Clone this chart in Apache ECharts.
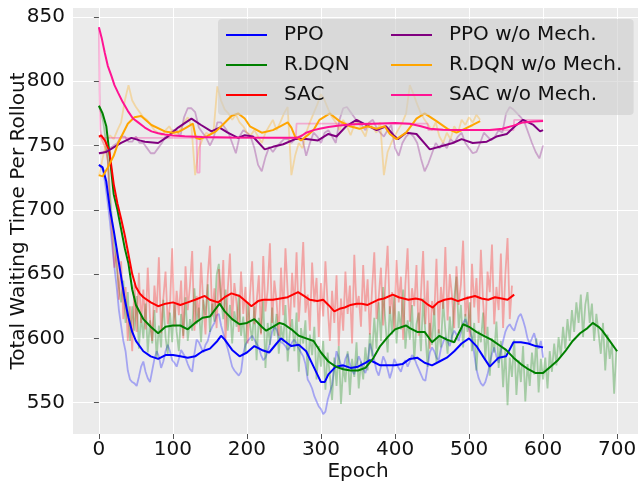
<!DOCTYPE html>
<html>
<head>
<meta charset="utf-8">
<script src="https://cdn.jsdelivr.net/npm/echarts@6/dist/echarts.min.js"></script>
<style>
  html, body { margin: 0; padding: 0; background: #fff; }
  #chart { width: 638px; height: 483px; }
</style>
</head>
<body>
<div id="chart"></div>
<script>
// Epoch step of the raw logs: full methods are logged every 3 epochs,
// the "w/o Mech." ablations every 5 epochs
const RAW_STEP = 3;
const NO_MECH_STEP = 5;

// Raw per-rollout waiting time (one value every RAW_STEP epochs)
const ppoRaw = [
  735,733,730,718,705,690,672,655,640,622,610,598,590,575,568,566,565,563,570,578,
  582,574,569,566,575,584,590,586,577,582,590,595,590,583,581,578,584,591,588,585,
  580,576,574,588,599,597,593,589,595,598,605,609,612,618,619,610,604,598,592,585,
  578,575,573,571,574,588,595,598,600,602,599,596,593,587,583,585,590,596,605,609,
  607,601,597,596,594,591,593,597,599,596,592,589,586,580,568,565,561,555,551,547,
  545,541,543,552,558,564,578,590,585,579,576,584,588,580,575,572,580,586,582,576,
  573,580,596,590,583,575,571,578,586,582,576,569,575,584,580,577,574,580,583,578,
  582,587,585,580,576,572,568,567,578,589,593,590,585,583,592,597,601,598,594,602,
  606,603,598,605,612,615,610,606,600,588,576,569,565,563,566,572,580,588,593,586,
  581,590,598,605,609,611,608,606,612,617,619,614,608,600,596,600,604,597,592,598,
  585];

const rdqnRaw = [
  781,775,768,755,740,712,690,672,655,640,628,645,612,636,598,625,606,633,592,618,
  600,627,589,614,596,622,584,610,593,630,601,588,620,597,627,605,590,619,602,632,
  598,615,606,639,611,624,597,630,618,642,605,627,613,649,658,631,615,638,606,626,
  596,621,609,634,602,617,589,628,611,598,625,583,616,604,630,577,612,595,624,602,
  619,588,610,597,626,582,605,615,590,620,574,608,596,614,571,603,587,609,568,594,
  578,598,560,589,571,552,585,563,594,549,578,566,590,556,584,570,597,561,582,568,
  593,575,604,586,616,592,628,598,640,612,589,625,603,633,596,621,607,638,592,614,
  599,626,583,611,620,590,631,604,578,612,595,624,581,607,593,629,606,588,617,597,
  631,648,608,626,593,619,605,628,590,612,575,606,597,620,584,609,571,600,589,613,
  577,598,562,591,548,585,570,599,556,583,566,594,551,580,563,589,572,600,558,584,
  568,585,561,590,574,596,579,601,586,609,592,615,598,622,605,628,612,634,601,626,
  636,612,627,598,619,604,588,612,575,603,584,596,557,591];

const sacRaw = [
  757,756,752,748,738,700,680,655,670,630,660,615,640,598,625,590,642,605,651,612,
  638,607,655,616,598,641,620,663,604,631,652,611,626,670,609,637,618,645,600,656,
  622,641,668,606,633,615,659,627,603,648,672,617,639,608,654,625,661,598,637,666,
  614,643,627,605,652,619,640,596,633,660,611,628,649,603,664,621,638,674,612,645,
  629,602,655,618,670,636,609,651,624,667,613,640,675,620,634,606,659,628,647,601,
  643,617,660,626,598,637,612,649,594,631,606,652,619,641,596,665,624,633,609,657,
  621,646,603,638,667,615,632,655,610,644,672,619,636,606,661,628,648,599,642,670,
  613,639,625,657,602,634,668,611,645,592,629,618,662,604,640,623,671,614,650,633,
  608,656,626,642,676,617,633,601,658,624,647,612,669,628,603,652,636,673,611,640,
  622,666,608,649,678,615,641];

// Ablation logs (one value every NO_MECH_STEP epochs)
const ppoNoMechRaw = [744,744,746,748,750,752,757,757,753,753,757,752,752,748,744,744,748,752,757,757,
  762,762,757,772,779,779,776,764,760,756,750,756,768,768,764,760,752,744,757,762,
  760,757,748,735,730,741,749,745,749,752,755,755,752,755,757,755,742,752,760,757,
  752,760,762,757,752,770,779,780,776,772,768,766,762,768,770,764,760,757,762,766,
  748,742,752,757,760,757,752,740,730,736,744,752,748,752,748,755,752,757,760,752,
  748,744,745,752,760,757,754,757,762,760,775,780,778,775,772,768,760,752,745,740,750];

const rdqnNoMechRaw = [726,740,752,758,755,762,768,785,797,785,780,776,772,770,766,762,760,758,762,765,
  760,758,763,768,772,765,727,748,755,760,758,762,796,785,778,775,770,774,768,765,
  760,758,762,757,752,760,765,770,762,768,775,780,727,742,752,748,760,768,775,782,
  790,785,778,772,768,762,770,765,758,766,770,762,757,768,764,760,768,727,745,752,
  758,763,768,775,797,790,782,775,770,766,762,768,757,752,760,755,765,760,770,766,
  772,768,774,770];

// SAC w/o Mech. log is piecewise constant: [epoch, value] breakpoints
const sacNoMechRaw = [[0,842],[1,790],[2,762],[4,756],[132,756],[133,729],[136,729],[137,756],
  [266,756],[267,767],[444,767],[445,762],[560,762],[561,770],[600,770]];

// Moving-average curves: [epoch, value]
const ppoSmooth = [[0,735],[5,733],[10,722],[15,700],[20,684],[25,666],[30,648],[35,630],[40,616],[45,605],
  [50,598],[60,590],[70,586],[80,584],[90,587],[100,587],[110,586],[120,585],[130,586],[140,590],
  [150,592],[160,598],[165,602],[170,599],[180,591],[190,586],[200,589],[210,594],[220,591],[230,589],
  [240,596],[246,600],[255,596],[260,594],[270,595],[280,590],[290,578],[300,566],[305,566],[310,572],
  [320,578],[330,579],[340,577],[350,578],[360,581],[366,583],[370,582],[380,579],[390,579],[400,579],
  [410,580],[420,584],[430,585],[440,581],[450,579],[460,582],[470,585],[480,590],[490,596],[500,600],
  [510,594],[520,585],[528,578],[540,585],[550,586],[560,597],[570,597],[580,596],[590,594],[600,593]];

const rdqnSmooth = [[0,781],[5,775],[10,765],[15,740],[20,712],[25,700],[30,685],[35,670],[40,658],[45,638],
  [50,626],[60,615],[70,609],[80,604],[90,609],[100,610],[110,610],[120,607],[130,612],[140,616],
  [150,617],[163,627],[170,621],[180,615],[190,611],[200,612],[210,615],[220,609],[226,606],[235,609],
  [244,612],[250,611],[260,607],[270,602],[280,600],[290,598],[300,589],[310,582],[320,578],[330,576],
  [340,575],[350,575],[360,577],[370,584],[380,594],[390,601],[400,607],[410,609],[415,610],[420,608],
  [430,605],[440,605],[450,597],[460,602],[470,599],[480,597],[492,611],[500,609],[510,605],[520,602],
  [530,599],[540,595],[550,591],[560,585],[570,580],[580,576],[590,573],[600,573],[610,578],[620,583],
  [630,590],[640,598],[650,604],[660,608],[667,612],[675,609],[680,606],[690,598],[700,590]];

const sacSmooth = [[0,757],[3,758],[8,754],[14,746],[20,720],[25,705],[30,693],[35,680],[40,665],[45,650],
  [50,640],[55,635],[60,632],[70,628],[80,625],[90,627],[100,628],[110,626],[120,628],[130,630],
  [143,633],[150,630],[161,628],[170,632],[179,635],[190,633],[200,628],[206,625],[215,629],[222,630],
  [235,630],[245,631],[255,632],[269,636],[277,633],[285,630],[295,629],[303,630],[310,626],[318,621],
  [325,623],[332,624],[340,626],[348,627],[355,627],[363,626],[370,628],[377,630],[385,631],[397,634],
  [405,632],[418,630],[428,631],[436,630],[445,626],[451,624],[458,628],[467,630],[476,631],[485,629],
  [495,631],[508,633],[517,631],[526,630],[535,632],[544,631],[552,630],[561,634]];

const ppoNoMechSmooth = [[0,744],[10,745],[21,749],[30,752],[44,756],[55,754],[62,753],[80,752],[93,757],[107,764],
  [125,771],[138,766],[152,761],[163,764],[174,760],[188,756],[197,758],[208,757],[224,747],[235,749],
  [249,751],[265,755],[280,755],[296,754],[310,759],[321,757],[334,765],[348,770],[361,766],[375,762],
  [388,765],[398,758],[404,755],[415,760],[429,759],[447,747],[460,749],[478,752],[490,755],[505,752],
  [524,753],[537,757],[551,759],[562,765],[573,770],[587,766],[596,761],[600,762]];

const rdqnNoMechSmooth = [[0,727],[5,726],[12,733],[20,742],[26,752],[39,767],[48,772],[57,773],[71,766],[89,761],
  [100,760],[109,761],[118,764],[127,767],[131,756],[136,755],[145,757],[158,761],[167,766],[179,773],
  [188,775],[197,771],[204,765],[220,760],[235,762],[245,765],[255,768],[260,764],[265,757],[273,754],
  [282,758],[290,762],[298,770],[312,775],[325,769],[339,765],[352,763],[363,765],[375,763],[386,765],
  [393,759],[402,755],[415,760],[429,771],[440,775],[456,769],[471,763],[483,760],[494,763],[505,766],[515,769]];

const sacNoMechSmooth = [[0,842],[4,833],[8,822],[12,812],[17,804],[21,797],[26,791],[32,784],[39,777],[46,771],
  [53,768],[62,764],[71,761],[80,759.5],[89,758.6],[100,757.8],[116,757.3],[140,756.6],[180,756.2],[268,756],
  [275,758],[280,760],[290,762],[298,763],[310,764.5],[325,765.6],[345,766.5],[370,767],[400,767.5],[420,767],
  [435,765],[447,763],[465,762.3],[483,762],[528,762],[545,763],[560,765.5],[573,768],[587,768.7],[600,769]];

// Axis ticks
const xTicks = [0, 100, 200, 300, 400, 500, 600, 700];
const yTicks = [550, 600, 650, 700, 750, 800, 850];

const methods = [
  { name: 'PPO',             color: '#0000ff', raw: ppoRaw,        step: RAW_STEP,     smooth: ppoSmooth },
  { name: 'R.DQN',           color: '#008000', raw: rdqnRaw,       step: RAW_STEP,     smooth: rdqnSmooth },
  { name: 'SAC',             color: '#ff0000', raw: sacRaw,        step: RAW_STEP,     smooth: sacSmooth },
  { name: 'PPO w/o Mech.',   color: '#800080', raw: ppoNoMechRaw,  step: NO_MECH_STEP, smooth: ppoNoMechSmooth },
  { name: 'R.DQN w/o Mech.', color: '#ffa500', raw: rdqnNoMechRaw, step: NO_MECH_STEP, smooth: rdqnNoMechSmooth },
  { name: 'SAC w/o Mech.',   color: '#ff1493', raw: sacNoMechRaw,  step: NO_MECH_STEP, smooth: sacNoMechSmooth }
];

const toPairs = (arr, step) => arr.map((v, i) => Array.isArray(v) ? v : [i * step, v]);

const series = [];
methods.forEach(m => {
  series.push({
    name: m.name + ' (raw)',
    type: 'line',
    data: toPairs(m.raw, m.step),
    color: m.color,
    showSymbol: false,
    symbol: 'none',
    silent: true,
    lineStyle: { color: m.color, width: 1.8, opacity: 0.3 },
    z: 2
  });
  series.push({
    name: m.name,
    type: 'line',
    data: m.smooth,
    color: m.color,
    showSymbol: false,
    symbol: 'none',
    lineStyle: { color: m.color, width: 2 },
    z: 3
  });
});

const font = 'DejaVu Sans';
const legendCommon = {
  orient: 'vertical',
  icon: 'rect',
  itemWidth: 41,
  itemHeight: 2.2,
  itemGap: 10,
  textStyle: { fontFamily: font, fontSize: 20, color: '#111', lineHeight: 20, padding: [0, 0, 0, 12] },
  selectedMode: false
};

const option = {
  animation: false,
  backgroundColor: '#ffffff',
  grid: {
    left: 73, top: 8, width: 570, height: 426,
    containLabel: false,
    outerBoundsMode: 'none',
    show: true, backgroundColor: '#ebebeb', borderWidth: 0
  },
  legend: [
    Object.assign({}, legendCommon, {
      data: ['PPO', 'R.DQN', 'SAC'],
      left: 218, top: 19,
      padding: [6, 284, 10, 8],
      backgroundColor: 'rgba(205,205,205,0.6)',
      borderRadius: 4
    }),
    Object.assign({}, legendCommon, {
      data: ['PPO w/o Mech.', 'R.DQN w/o Mech.', 'SAC w/o Mech.'],
      left: 391, top: 25,
      padding: 0
    })
  ],
  xAxis: {
    type: 'value',
    min: -35, max: 735,
    name: 'Epoch',
    nameLocation: 'middle',
    nameGap: 28,
    nameMoveOverlap: false,
    nameTextStyle: { fontFamily: font, fontSize: 20, color: '#111' },
    axisLine: { show: false },
    axisTick: { show: true, length: 5, lineStyle: { color: '#555' }, customValues: xTicks },
    axisLabel: { fontFamily: font, fontSize: 20, color: '#111', margin: 6, customValues: xTicks },
    splitLine: { show: true, lineStyle: { color: '#ffffff', width: 1 } }
  },
  yAxis: {
    type: 'value',
    min: 525.6, max: 857,
    name: 'Total Waiting Time Per Rollout',
    nameLocation: 'middle',
    nameGap: 44,
    nameMoveOverlap: false,
    nameTextStyle: { fontFamily: font, fontSize: 20, color: '#111' },
    axisLine: { show: false },
    axisTick: { show: true, length: 5, lineStyle: { color: '#555' }, customValues: yTicks },
    axisLabel: { fontFamily: font, fontSize: 20, color: '#111', margin: 8, customValues: yTicks },
    splitLine: { show: true, lineStyle: { color: '#ffffff', width: 1 } }
  },
  series: series
};

const chart = echarts.init(document.getElementById('chart'), null, { renderer: 'canvas' });
chart.setOption(option);
</script>
</body>
</html>
